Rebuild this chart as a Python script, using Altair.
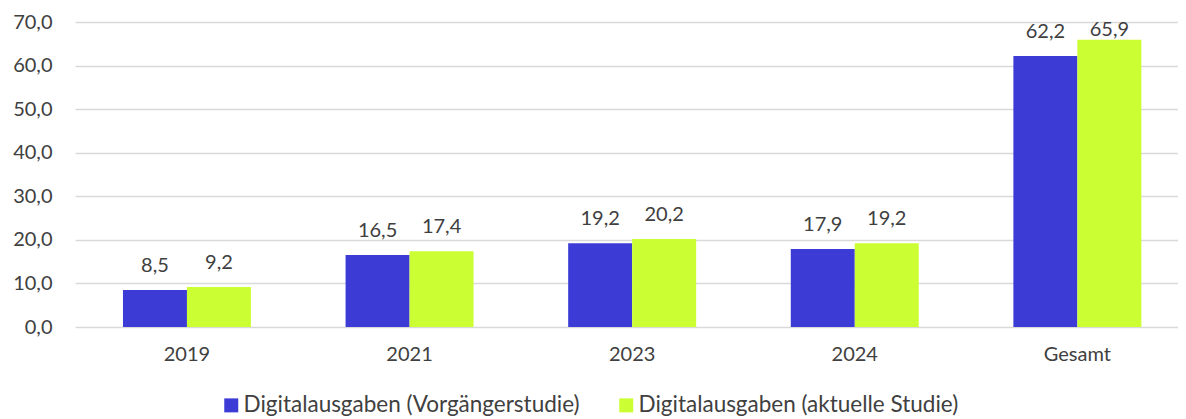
import altair as alt
import pandas as pd

categories = ["2019", "2021", "2023", "2024", "Gesamt"]
series_names = ["Digitalausgaben (Vorgängerstudie)", "Digitalausgaben (aktuelle Studie)"]
vorgaenger = [8.5, 16.5, 19.2, 17.9, 62.2]
aktuell = [9.2, 17.4, 20.2, 19.2, 65.9]
colors = ["#3d3bd6", "#ccff33"]

rows = []
for i, c in enumerate(categories):
    rows.append({"cat": c, "series": series_names[0], "value": vorgaenger[i]})
    rows.append({"cat": c, "series": series_names[1], "value": aktuell[i]})
df = pd.DataFrame(rows)

FONT = "Lato"
TXT = "#404040"
FS = 20

x = alt.X("cat:N", sort=categories, title=None,
          scale=alt.Scale(paddingInner=0.425, paddingOuter=0.19, align=0.567),
          axis=alt.Axis(labelAngle=0, ticks=False, domain=False, labelPadding=17,
                        labelFontSize=FS, labelColor=TXT, labelFont=FONT))
xoff = alt.XOffset("series:N", sort=series_names)
y = alt.Y("value:Q", title=None,
          scale=alt.Scale(domain=[0, 70], nice=False),
          axis=alt.Axis(values=[0, 10, 20, 30, 40, 50, 60, 70], domain=False, ticks=False,
                        labelPadding=23, gridColor="#d9d9d9", gridWidth=1.5,
                        labelFontSize=FS, labelColor=TXT, labelFont=FONT,
                        labelExpr="replace(format(datum.value, '.1f'), '.', ',')"))

base = alt.Chart(df).encode(x=x, xOffset=xoff)

bars = base.mark_bar().encode(
    y=y,
    color=alt.Color("series:N", sort=series_names,
                    scale=alt.Scale(domain=series_names, range=colors),
                    legend=alt.Legend(title=None, orient="none", direction="horizontal",
                                      legendX=145, legendY=372, symbolType="square",
                                      symbolSize=196, symbolStrokeWidth=0, labelOffset=1,
                                      columnPadding=35, labelFontSize=22.5, labelColor=TXT,
                                      labelFont=FONT, labelLimit=600)),
)

labels = base.transform_calculate(
    lab="replace(format(datum.value, '.1f'), '.', ',')",
    ly="min(datum.value, 62.6)",
).mark_text(baseline="bottom", dy=-14, fontSize=FS, color=TXT, font=FONT).encode(
    y=alt.Y("ly:Q"), text="lab:N"
)

chart = alt.layer(bars, labels).properties(
    width=1103, height=305,
    autosize=alt.AutoSizeParams(type="none"),
    padding={"left": 67, "top": 14, "right": 0, "bottom": 90},
).configure_view(stroke=None)

chart.save("out.html", embed_options={"renderer": "svg", "actions": False})
